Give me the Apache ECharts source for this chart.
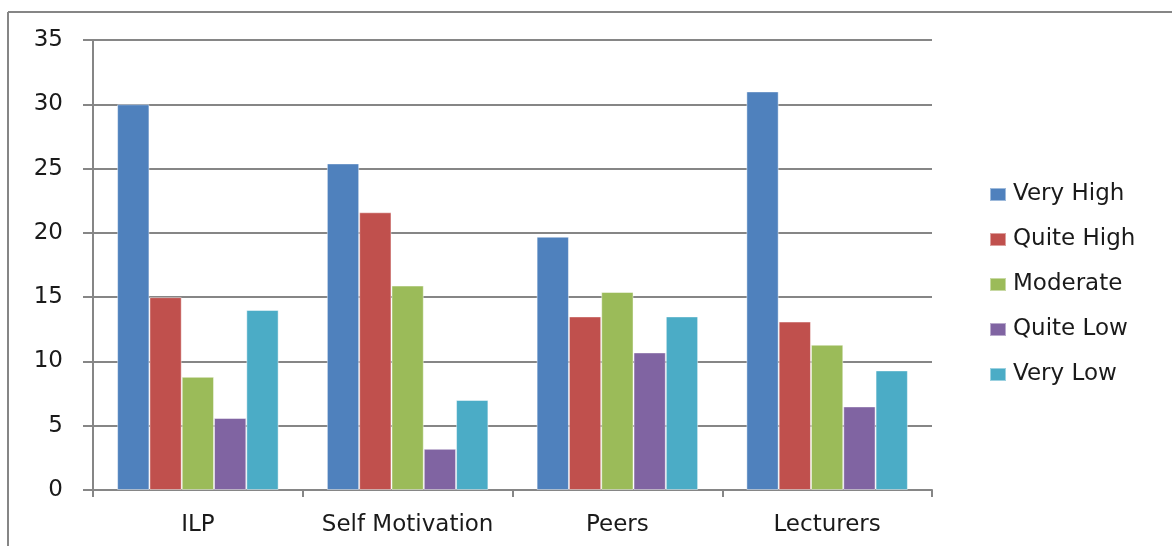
<!DOCTYPE html>
<html>
<head>
<meta charset="utf-8">
<script src="https://cdn.jsdelivr.net/npm/echarts@6/dist/echarts.min.js"></script>
<style>
  html, body { margin: 0; padding: 0; background: #fff; }
  #chart { width: 1172px; height: 546px; }
</style>
</head>
<body>
<div id="chart"></div>
<script>
const categories = ['ILP', 'Self Motivation', 'Peers', 'Lecturers']
const seriesNames = ['Very High', 'Quite High', 'Moderate', 'Quite Low', 'Very Low']
const veryHigh = [30, 25.4, 19.7, 31]
const quiteHigh = [15, 21.6, 13.5, 13.1]
const moderate = [8.8, 15.9, 15.4, 11.3]
const quiteLow = [5.6, 3.2, 10.7, 6.5]
const veryLow = [14, 7, 13.5, 9.3]
const colors = ['#4F81BD', '#C0504D', '#9BBB59', '#8064A2', '#4BACC6']

const gray = '#868686'
const font = 'DejaVu Sans'
const values = [veryHigh, quiteHigh, moderate, quiteLow, veryLow]

const chart = echarts.init(document.getElementById('chart'))
chart.setOption({
  animation: false,
  color: colors,
  textStyle: { fontFamily: font },
  grid: { left: 93, right: 240, top: 40, bottom: 56, containLabel: false, outerBoundsMode: 'none' },
  legend: {
    orient: 'vertical',
    left: 984,
    top: 178,
    itemWidth: 16,
    itemHeight: 13,
    itemGap: 22,
    icon: 'rect',
    textStyle: { fontSize: 23, color: '#1a1a1a', fontFamily: font, padding: [0, 0, 0, 2] },
    data: seriesNames
  },
  graphic: [
    { type: 'line', shape: { x1: 8, y1: 12, x2: 1172, y2: 12 }, style: { stroke: gray, lineWidth: 2 } },
    { type: 'line', shape: { x1: 8, y1: 12, x2: 8, y2: 546 }, style: { stroke: gray, lineWidth: 2 } }
  ],
  xAxis: {
    type: 'category',
    data: categories,
    axisLine: { lineStyle: { color: gray, width: 2 } },
    axisTick: { show: true, length: 7, interval: 0, lineStyle: { color: gray, width: 2 } },
    axisLabel: { interval: 0, fontSize: 23, color: '#1a1a1a', margin: 24, fontFamily: font }
  },
  yAxis: {
    type: 'value',
    min: 0,
    max: 35,
    interval: 5,
    axisLine: { show: true, lineStyle: { color: gray, width: 2 } },
    axisTick: { show: true, length: 10, lineStyle: { color: gray, width: 2 } },
    splitLine: { lineStyle: { color: gray, width: 2 } },
    axisLabel: { fontSize: 23, color: '#1a1a1a', margin: 30, fontFamily: font }
  },
  series: seriesNames.map((name, i) => ({
    name,
    type: 'bar',
    data: values[i],
    barGap: '0%',
    barCategoryGap: '23%',
    itemStyle: { borderColor: 'rgba(255,255,255,0.45)', borderWidth: 1 }
  }))
})
</script>
</body>
</html>
